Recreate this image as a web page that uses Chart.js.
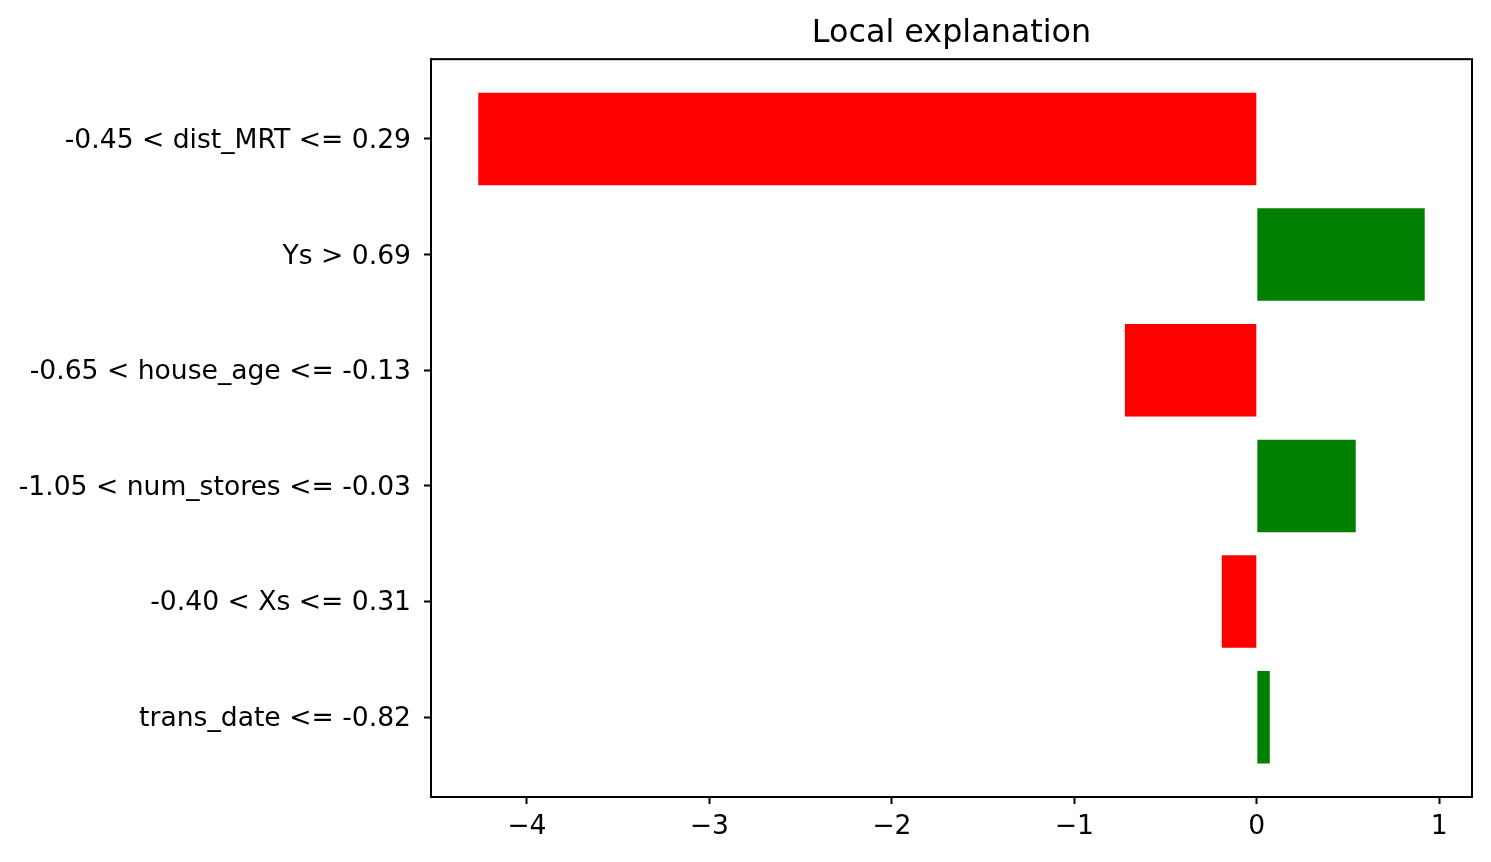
<!DOCTYPE html>
<html>
<head>
<meta charset="utf-8">
<script src="https://cdn.jsdelivr.net/npm/chart.js@4"></script>
<style>
  html, body { margin: 0; padding: 0; background: #fff; }
  #wrap { width: 1491px; height: 862px; }
</style>
</head>
<body>
<div id="wrap"><canvas id="explainChart"></canvas></div>
<script>
// ==================== DATA ====================
const featureLabels = [
  '-0.45 < dist_MRT <= 0.29',
  'Ys > 0.69',
  '-0.65 < house_age <= -0.13',
  '-1.05 < num_stores <= -0.03',
  '-0.40 < Xs <= 0.31',
  'trans_date <= -0.82'
];
const weights = [-4.266, 0.920, -0.723, 0.542, -0.192, 0.071];
const xTicks = [-4, -3, -2, -1, 0, 1];

const FONT = "'DejaVu Sans', sans-serif";

// frame round the plot area (matplotlib style box)
const framePlugin = {
  id: 'frame',
  afterDraw(chart) {
    const a = chart.chartArea;
    const ctx = chart.ctx;
    ctx.save();
    ctx.strokeStyle = '#000';
    ctx.lineWidth = 2;
    ctx.strokeRect(a.left, a.top, a.right - a.left, a.bottom - a.top);
    ctx.restore();
  }
};

function minusLabel(v) {
  return v < 0 ? '\u2212' + Math.abs(v) : String(v);
}

const ctx = document.getElementById('explainChart');

new Chart(ctx, {
  type: 'bar',
  data: {
    datasets: [{
      data: weights.map((w, i) => ({ x: w, y: i })),
      backgroundColor: weights.map(w => w > 0 ? '#008000' : '#ff0000'),
      borderWidth: 0,
      barPercentage: 0.8,
      categoryPercentage: 1.0
    }]
  },
  options: {
    indexAxis: 'y',
    responsive: true,
    maintainAspectRatio: false,
    animation: false,
    layout: { padding: { left: 0, right: 19, top: 0, bottom: 0 } },
    plugins: {
      legend: { display: false },
      tooltip: { enabled: false },
      title: {
        display: true,
        text: 'Local explanation',
        fullSize: false,
        color: '#000',
        font: { family: FONT, size: 31.8, weight: 'normal' },
        padding: { top: 15, bottom: 6 }
      }
    },
    scales: {
      x: {
        type: 'linear',
        min: -4.525,
        max: 1.179,
        afterBuildTicks: scale => { scale.ticks = xTicks.map(v => ({ value: v })); },
        afterFit: scale => { scale.height = 65; },
        grid: { display: true, drawOnChartArea: false, drawTicks: true, tickLength: 7, tickWidth: 2, tickColor: '#000' },
        border: { display: true, color: '#000', width: 2 },
        ticks: {
          color: '#000',
          padding: 7,
          maxRotation: 0,
          font: { family: FONT, size: 26.6 },
          callback: v => minusLabel(v)
        }
      },
      y: {
        type: 'linear',
        reverse: true,
        offset: false,
        min: -0.69,
        max: 5.69,
        afterBuildTicks: scale => { scale.ticks = featureLabels.map((_, i) => ({ value: i })); },
        afterFit: scale => { scale.width = 431; },
        grid: { display: true, offset: false, drawOnChartArea: false, drawTicks: true, tickLength: 7, tickWidth: 2, tickColor: '#000' },
        border: { display: true, color: '#000', width: 2 },
        ticks: {
          color: '#000',
          padding: 13,
          labelOffset: 2,
          font: { family: FONT, size: 26.6 },
          callback: v => featureLabels[v]
        }
      }
    }
  },
  plugins: [framePlugin]
});
</script>
</body>
</html>
